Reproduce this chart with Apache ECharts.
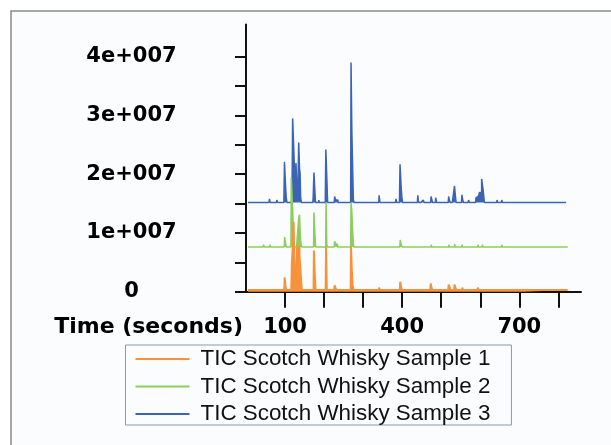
<!DOCTYPE html>
<html>
<head>
<meta charset="utf-8">
<script src="https://cdn.jsdelivr.net/npm/echarts@6/dist/echarts.min.js"></script>
<style>
html,body{margin:0;padding:0;background:#ffffff;}
#chart{width:611px;height:445px;}
</style>
</head>
<body>
<div id="chart"></div>
<script>
// Values in units of 1e7 counts; time in seconds
const seriesNames = ['TIC Scotch Whisky Sample 1', 'TIC Scotch Whisky Sample 2', 'TIC Scotch Whisky Sample 3'];

const s1Time = [5, 98, 100, 102, 104, 116, 119, 121, 123, 125, 128, 130, 132, 134, 136, 138, 140, 142, 144, 173, 175, 177, 180, 204, 206, 208, 226, 228, 230, 233, 268, 270, 272, 274, 277, 340, 342, 344, 394, 396, 398, 401, 472, 474, 476, 478, 518, 520, 523, 525, 533, 535, 537, 539, 553, 555, 557, 593, 595, 597, 824];
const s1Value = [0.03, 0.03, 0.245, 0.1, 0.03, 0.03, 0.5, 0.8, 1.19, 0.3, 0.1, 0.07, 0.76, 0.76, 0.76, 0.6, 0.45, 0.2, 0.03, 0.03, 0.70, 0.32, 0.03, 0.03, 0.76, 0.03, 0.03, 0.11, 0.07, 0.03, 0.03, 0.76, 0.37, 0.12, 0.03, 0.03, 0.07, 0.03, 0.03, 0.17, 0.09, 0.03, 0.03, 0.14, 0.08, 0.03, 0.03, 0.12, 0.12, 0.03, 0.03, 0.12, 0.08, 0.03, 0.03, 0.07, 0.03, 0.03, 0.07, 0.03, 0.03];

const s2Time = [5, 44, 46, 48, 60, 62, 64, 98, 100, 102, 104, 115, 117, 119, 121, 123, 125, 134, 136, 138, 140, 142, 144, 173, 175, 177, 180, 204, 206, 208, 210, 226, 228, 230, 233, 236, 268, 270, 272, 274, 277, 394, 396, 398, 401, 474, 475, 476, 519, 520, 521, 534, 535, 536, 553, 554, 555, 594, 595, 596, 605, 606, 607, 655, 656, 657, 824];
const s2Value = [0.76, 0.76, 0.80, 0.76, 0.76, 0.80, 0.76, 0.76, 0.93, 0.84, 0.76, 0.76, 1.95, 1.95, 1.3, 0.9, 0.76, 0.76, 1.25, 1.31, 0.96, 0.8, 0.76, 0.76, 1.35, 1.04, 0.76, 0.76, 1.52, 0.8, 0.76, 0.76, 0.86, 0.82, 0.80, 0.76, 0.76, 1.52, 1.38, 1.05, 0.76, 0.76, 0.88, 0.82, 0.76, 0.76, 0.80, 0.76, 0.76, 0.80, 0.76, 0.76, 0.81, 0.76, 0.76, 0.80, 0.76, 0.76, 0.80, 0.76, 0.76, 0.80, 0.76, 0.76, 0.80, 0.76, 0.76];

const s3Time = [5, 59, 61, 63, 78, 80, 82, 97, 100, 102, 104, 106, 117, 119, 120, 122, 124, 127, 129, 131, 134, 136, 138, 139, 141, 143, 171, 173, 175, 177, 179, 186, 187, 188, 203, 206, 208, 210, 226, 228, 231, 234, 237, 268, 270, 272, 274, 276, 278, 340, 342, 344, 383, 385, 387, 393, 396, 398, 400, 402, 439, 441, 443, 453, 455, 457, 473, 475, 477, 479, 485, 487, 489, 518, 520, 522, 524, 533, 535, 537, 539, 552, 554, 556, 558, 569, 571, 573, 588, 590, 595, 601, 606, 609, 612, 642, 644, 646, 654, 656, 658, 820];
const s3Value = [1.52, 1.52, 1.58, 1.52, 1.52, 1.56, 1.52, 1.52, 2.21, 1.84, 1.6, 1.52, 1.52, 1.8, 2.95, 2.67, 2.3, 1.75, 2.19, 1.8, 1.6, 2.54, 2.1, 2.02, 1.6, 1.52, 1.52, 1.6, 2.03, 1.77, 1.52, 1.52, 1.56, 1.52, 1.52, 2.42, 1.94, 1.52, 1.52, 1.62, 1.56, 1.56, 1.52, 1.52, 3.90, 2.77, 2.13, 1.56, 1.52, 1.52, 1.64, 1.52, 1.52, 1.58, 1.52, 1.52, 2.17, 1.83, 1.62, 1.52, 1.52, 1.64, 1.52, 1.52, 1.56, 1.52, 1.52, 1.62, 1.56, 1.52, 1.52, 1.60, 1.52, 1.52, 1.62, 1.56, 1.52, 1.52, 1.80, 1.65, 1.52, 1.52, 1.65, 1.56, 1.52, 1.52, 1.56, 1.52, 1.52, 1.60, 1.62, 1.69, 1.92, 1.72, 1.52, 1.52, 1.56, 1.52, 1.52, 1.56, 1.52, 1.52];

const seriesBaselines = [0, 0.76, 1.52];

const xTickValues = [100, 200, 300, 400, 500, 600, 700, 800];
const xLabelValues = [100, 400, 700];
const yTickValues = [0, 0.5, 1, 1.5, 2, 2.5, 3, 3.5, 4];
const yLabelValues = [0, 1, 2, 3, 4];
const yLabelTexts = ['0', '1e+007', '2e+007', '3e+007', '4e+007'];

const colors = ['#f7923a', '#8dcd5e', '#3c64b4'];

function pairs(t, v) {
  return t.map((x, i) => [x, v[i]]);
}
const allData = [pairs(s1Time, s1Value), pairs(s2Time, s2Value), pairs(s3Time, s3Value)];

const chart = echarts.init(document.getElementById('chart'), null, {renderer: 'canvas'});
const axisFont = {fontFamily: 'DejaVu Sans', fontWeight: 'bold', fontSize: 21, color: '#000'};

chart.setOption({
  animation: false,
  backgroundColor: '#ffffff',
  graphic: [{
    type: 'rect', z: -10, silent: true,
    shape: {x: 11, y: 11, width: 640, height: 460},
    style: {fill: '#fbfcfd', stroke: '#8a8a8a', lineWidth: 1.5}
  }],
  grid: {left: 246, top: 24.4, width: 335, height: 267.3, containLabel: false},
  xAxis: {
    type: 'value', min: 0, max: 858,
    name: 'Time (seconds)', nameLocation: 'start', nameGap: 3,
    nameTextStyle: Object.assign({}, axisFont, {fontSize: 22, verticalAlign: 'top', align: 'right', padding: [25, 0, 0, 0]}),
    axisLine: {show: true, lineStyle: {color: '#111', width: 2}},
    axisTick: {show: true, inside: false, length: 16, customValues: xTickValues, lineStyle: {color: '#111', width: 2}},
    axisLabel: Object.assign({}, axisFont, {margin: 25, customValues: xLabelValues, formatter: v => String(v)}),
    splitLine: {show: false}
  },
  yAxis: {
    type: 'value', min: 0, max: 4.55,
    axisLine: {show: true, lineStyle: {color: '#111', width: 2}},
    axisTick: {show: true, inside: false, length: 11, customValues: yTickValues, lineStyle: {color: '#111', width: 2}},
    axisLabel: Object.assign({}, axisFont, {margin: 114.5, align: 'center', customValues: yLabelValues,
      formatter: v => yLabelTexts[yLabelValues.indexOf(v)]}),
    splitLine: {show: false}
  },
  legend: {
    show: true, orient: 'vertical', left: 125.5, top: 345,
    padding: [3, 21, 0, 10],
    itemWidth: 54, itemHeight: 2, itemGap: 5.5, icon: 'rect',
    borderColor: '#7f9db9', borderWidth: 1,
    textStyle: {fontFamily: 'Liberation Sans', fontSize: 22.4, lineHeight: 22, color: '#111', padding: [0, 0, 0, 6]},
    data: seriesNames
  },
  series: seriesNames.map((name, i) => ({
    name: name,
    type: 'line',
    data: allData[i],
    step: 'middle',
    smooth: false,
    showSymbol: false,
    symbol: 'none',
    sampling: null,
    color: colors[i],
    lineStyle: {color: colors[i], width: i === 0 ? 2 : 1.5},
    areaStyle: {color: colors[i], opacity: 1, origin: seriesBaselines[i]},
    z: 5 - i
  }))
});
</script>
</body>
</html>
